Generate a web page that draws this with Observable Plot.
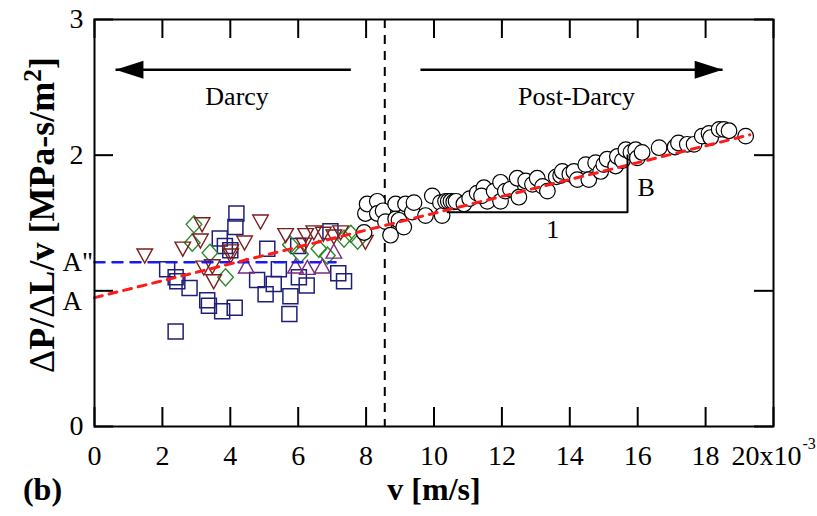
<!DOCTYPE html>
<html>
<head>
<meta charset="utf-8">
<script src="https://cdn.jsdelivr.net/npm/d3@7"></script>
<script src="https://cdn.jsdelivr.net/npm/@observablehq/plot@0.6"></script>
<style>
  html, body { margin: 0; padding: 0; background: #fff; }
  #chart svg { display: block; }
</style>
</head>
<body>
<div id="chart"></div>
<script>
// ---- data (v in 10^-3 m/s, ΔP/ΔL/v in MPa-s/m²) ----
const squareX = [4.18, 4.15, 3.69, 3.84, 4.00, 5.09, 2.14, 2.39, 2.44, 2.80, 3.32, 3.37, 3.76, 4.13, 2.39, 4.79, 5.04, 5.28, 5.43, 5.77, 5.74, 6.02, 6.25, 6.00, 6.95, 7.18, 7.35];
const squareY = [1.57, 1.47, 1.385, 1.33, 1.30, 1.31, 1.16, 1.10, 1.07, 1.02, 0.93, 0.89, 0.85, 0.875, 0.70, 1.08, 0.975, 1.05, 1.16, 0.96, 0.83, 1.10, 1.04, 1.33, 1.44, 1.13, 1.07];

const diamondX = [2.93, 2.88, 3.40, 3.86, 5.77, 6.07, 6.61, 6.86, 7.35, 7.55, 7.75];
const diamondY = [1.49, 1.355, 1.28, 1.10, 1.34, 1.27, 1.31, 1.26, 1.385, 1.42, 1.37];

const triDownX = [1.48, 3.17, 3.12, 2.60, 4.89, 4.42, 4.01, 4.01, 3.47, 3.51, 3.22, 5.63, 6.22, 6.46, 6.74, 7.25, 7.05, 6.17, 7.98];
const triDownY = [1.26, 1.49, 1.37, 1.31, 1.51, 1.355, 1.29, 1.26, 1.18, 1.07, 1.17, 1.41, 1.41, 1.43, 1.42, 1.43, 1.40, 1.34, 1.36];

const triUpX = [4.47, 5.92, 6.27, 6.71, 7.05];
const triUpY = [1.18, 1.18, 1.17, 1.18, 1.29];

const circleX = [7.94, 7.98, 8.03, 8.33, 8.33, 8.50, 8.57, 8.72, 8.87, 8.87, 8.97, 9.11, 9.16, 9.36, 9.41, 9.75, 9.95, 10.19, 10.24, 10.34, 10.42, 10.50, 10.58, 10.65, 10.88, 11.05, 11.27, 11.47, 11.57, 11.40, 11.77, 11.96, 11.96, 12.10, 12.25, 12.45, 12.50, 12.70, 12.90, 13.04, 13.20, 13.34, 13.60, 13.73, 13.78, 14.00, 14.12, 14.22, 14.47, 14.56, 14.76, 14.91, 15.00, 15.10, 15.35, 15.40, 15.55, 15.65, 15.80, 15.94, 15.99, 16.13, 16.63, 17.10, 17.20, 17.46, 17.66, 17.90, 18.10, 18.15, 18.40, 18.54, 18.69, 19.18];
const circleY = [1.43, 1.57, 1.64, 1.66, 1.57, 1.59, 1.51, 1.41, 1.64, 1.53, 1.52, 1.47, 1.64, 1.58, 1.65, 1.555, 1.70, 1.65, 1.555, 1.66, 1.66, 1.66, 1.655, 1.66, 1.64, 1.68, 1.72, 1.76, 1.66, 1.70, 1.735, 1.66, 1.80, 1.735, 1.75, 1.83, 1.69, 1.81, 1.785, 1.83, 1.77, 1.735, 1.84, 1.85, 1.88, 1.86, 1.88, 1.82, 1.93, 1.82, 1.945, 1.88, 1.93, 1.97, 1.92, 1.99, 1.96, 2.04, 2.02, 2.04, 1.98, 2.02, 2.055, 2.06, 2.09, 2.08, 2.08, 2.14, 2.16, 2.13, 2.19, 2.19, 2.18, 2.14];

// fitted lines
const redLineX = [0, 19.3];
const redLineY = [0.95, 2.15];
const blueLineX = [0, 7.1];
const blueLineY = [1.21, 1.21];
const darcyLimitX = [8.55];

// slope triangle (run "1", rise "B")
const slopeX = [10.4, 15.7, 15.7];
const slopeY = [1.58, 1.58, 2.0];

// regime arrows
const arrowTailX = [7.55, 9.6];
const arrowTipX = [0.62, 18.5];
const arrowY = [2.63, 2.63];

// annotations
const annoText = ["Darcy", "Post-Darcy", "B", "1"];
const annoX = [4.2, 14.2, 16.25, 13.5];
const annoY = [2.43, 2.43, 1.76, 1.45];
const yMarkText = ["A\"", "A"];
const yMarkY = [1.21, 0.92];

// axes
const xTicks = [0, 2, 4, 6, 8, 10, 12, 14, 16, 18, 20];
const xTickLabels = ["0", "2", "4", "6", "8", "10", "12", "14", "16", "18", ""];
const xLastLabel = "20x10";
const xExponent = "-3";
const yTicks = [0, 1, 2, 3];
const yTickLabels = ["0", "", "2", "3"];
const xTitle = "v [m/s]";
const yTitle = "ΔP/ΔL/v [MPa-s/m²]";
const panelTag = "(b)";

// ---- build ----
const zip = (xs, ys) => xs.map((x, i) => ({x, y: ys[i]}));
const squares = zip(squareX, squareY);
const diamonds = zip(diamondX, diamondY);
const triDown = zip(triDownX, triDownY);
const triUp = zip(triUpX, triUpY);
const circles = zip(circleX, circleY);
const redLine = zip(redLineX, redLineY);
const blueLine = zip(blueLineX, blueLineY);
const slope = zip(slopeX, slopeY);
const arrows = arrowTailX.map((t, i) => ({x1: t, x2: arrowTipX[i], y: arrowY[i], dir: i === 0 ? "L" : "R"}));
const annos = annoText.map((t, i) => ({t, x: annoX[i], y: annoY[i]}));
const yMarks = yMarkText.map((t, i) => ({t, y: yMarkY[i]}));

function sym(pts) {
  return {
    draw(ctx, size) {
      const r = Math.sqrt(size / Math.PI);
      ctx.moveTo(pts[0][0] * r, pts[0][1] * r);
      for (let i = 1; i < pts.length; i++) ctx.lineTo(pts[i][0] * r, pts[i][1] * r);
      ctx.closePath();
    }
  };
}
const squareSym = sym([[-1, -1], [1, -1], [1, 1], [-1, 1]]);
const diamondSym = sym([[0, -1.1], [1, 0], [0, 1.1], [-1, 0]]);
const downSym = sym([[-1, -0.85], [1, -0.85], [0, 0.95]]);
const upSym = sym([[-1, 0.85], [1, 0.85], [0, -0.95]]);
const leftHead = sym([[0, 0], [3.1, -1], [3.1, 1]]);
const rightHead = sym([[0, 0], [-3.1, -1], [-3.1, 1]]);

const W = 817, H = 516;
const mL = 94, mR = 44, mT = 19, mB = 90;
const plotW = W - mL - mR, plotH = H - mT - mB;
const tickLen = 19;

const serif = "Liberation Serif, Times New Roman, serif";

const chart = Plot.plot({
  width: W,
  height: H,
  marginLeft: mL,
  marginRight: mR,
  marginTop: mT,
  marginBottom: mB,
  style: {fontFamily: serif, fontSize: "28px", background: "#fff", color: "#000"},
  x: {domain: [0, 20]},
  y: {domain: [0, 3]},
  marks: [
    // inward ticks on all four sides
    Plot.tickX(xTicks, {x: d => d, insetTop: plotH - tickLen, stroke: "#000", strokeWidth: 2}),
    Plot.tickX(xTicks, {x: d => d, insetBottom: plotH - tickLen, stroke: "#000", strokeWidth: 2}),
    Plot.tickY(yTicks, {y: d => d, insetRight: plotW - tickLen, stroke: "#000", strokeWidth: 2}),
    Plot.tickY(yTicks, {y: d => d, insetLeft: plotW - tickLen, stroke: "#000", strokeWidth: 2}),
    Plot.axisX(xTicks, {tickSize: 0, tickPadding: 19, label: null, fontSize: 28,
      tickFormat: d => xTickLabels[xTicks.indexOf(d)]}),
    Plot.axisY(yTicks, {tickSize: 0, tickPadding: 11, label: null, fontSize: 28,
      tickFormat: d => yTickLabels[yTicks.indexOf(d)]}),
    Plot.text([xLastLabel], {x: [20], y: [0], dx: -7, dy: 19, lineAnchor: "top", textAnchor: "middle", fontSize: 28}),
    Plot.text([xExponent], {x: [20], y: [0], dx: 29, dy: 11, lineAnchor: "top", textAnchor: "start", fontSize: 16}),

    // Darcy / post-Darcy boundary
    Plot.ruleX(darcyLimitX, {x: d => d, stroke: "#000", strokeWidth: 2, strokeDasharray: "9,7"}),

    // data
    Plot.dot(squares, {x: "x", y: "y", symbol: squareSym, r: 7.5, stroke: "#1f1f78", strokeWidth: 1.5, fill: "none"}),
    Plot.dot(diamonds, {x: "x", y: "y", symbol: diamondSym, r: 7.8, stroke: "#2b8a2b", strokeWidth: 1.4, fill: "none"}),
    Plot.dot(triDown, {x: "x", y: "y", symbol: downSym, r: 7.8, stroke: "#7a1e1e", strokeWidth: 1.4, fill: "none"}),
    Plot.dot(triUp, {x: "x", y: "y", symbol: upSym, r: 7.8, stroke: "#7a2a7a", strokeWidth: 1.4, fill: "none"}),
    Plot.dot(circles, {x: "x", y: "y", r: 7.8, stroke: "#000", strokeWidth: 1.2, fill: "#fff"}),

    // fits
    Plot.line(blueLine, {x: "x", y: "y", stroke: "#1a1aee", strokeWidth: 2.5, strokeDasharray: "10,8"}),
    Plot.line(redLine, {x: "x", y: "y", stroke: "#ff1a1a", strokeWidth: 3, strokeDasharray: "8,7"}),

    // slope triangle
    Plot.line(slope, {x: "x", y: "y", stroke: "#000", strokeWidth: 2}),

    // regime arrows
    Plot.link(arrows, {x1: "x1", x2: "x2", y1: "y", y2: "y", stroke: "#000", strokeWidth: 2.5}),
    Plot.dot(arrows.filter(d => d.dir === "L"), {x: "x2", y: "y", symbol: leftHead, r: 9, fill: "#000", stroke: "none"}),
    Plot.dot(arrows.filter(d => d.dir === "R"), {x: "x2", y: "y", symbol: rightHead, r: 9, fill: "#000", stroke: "none"}),

    // annotations
    Plot.text(annos, {x: "x", y: "y", text: "t", fontSize: 26}),
    Plot.text(yMarks, {x: () => 0, y: "y", text: "t", textAnchor: "start", dx: -32, fontSize: 27}),

    // titles
    Plot.text([xTitle], {frameAnchor: "bottom", textAnchor: "middle", dy: 73, fontWeight: "bold", fontSize: 32}),
    Plot.text([panelTag], {frameAnchor: "bottom-left", textAnchor: "middle", dx: -52, dy: 73, fontWeight: "bold", fontSize: 32}),
    Plot.text([yTitle], {frameAnchor: "left", textAnchor: "middle", dx: -52, dy: -8, rotate: -90, fontWeight: "bold", fontSize: 28}),

    Plot.frame({stroke: "#000", strokeWidth: 2})
  ]
});

document.getElementById("chart").appendChild(chart);

// refine y title: thin Δ glyphs, a true superscript 2, and fit its length to the reference span
chart.querySelectorAll("text").forEach(t => {
  if (t.textContent === yTitle) {
    const ns = "http://www.w3.org/2000/svg";
    t.textContent = "";
    const parts = [["Δ", "normal"], ["P/", null], ["Δ", "normal"], ["L/v [MPa-s/m", null], ["2", "sup"], ["]", null]];
    for (const [s, kind] of parts) {
      const ts = document.createElementNS(ns, "tspan");
      ts.textContent = s;
      if (kind === "normal") ts.setAttribute("font-weight", "normal");
      if (kind === "sup") { ts.setAttribute("baseline-shift", "super"); ts.setAttribute("font-size", "70%"); }
      t.appendChild(ts);
    }
    const len = t.getComputedTextLength();
    if (len > 0) t.setAttribute("font-size", Math.min(36, 28 * 385 / len).toFixed(1));
  }
});
</script>
</body>
</html>
